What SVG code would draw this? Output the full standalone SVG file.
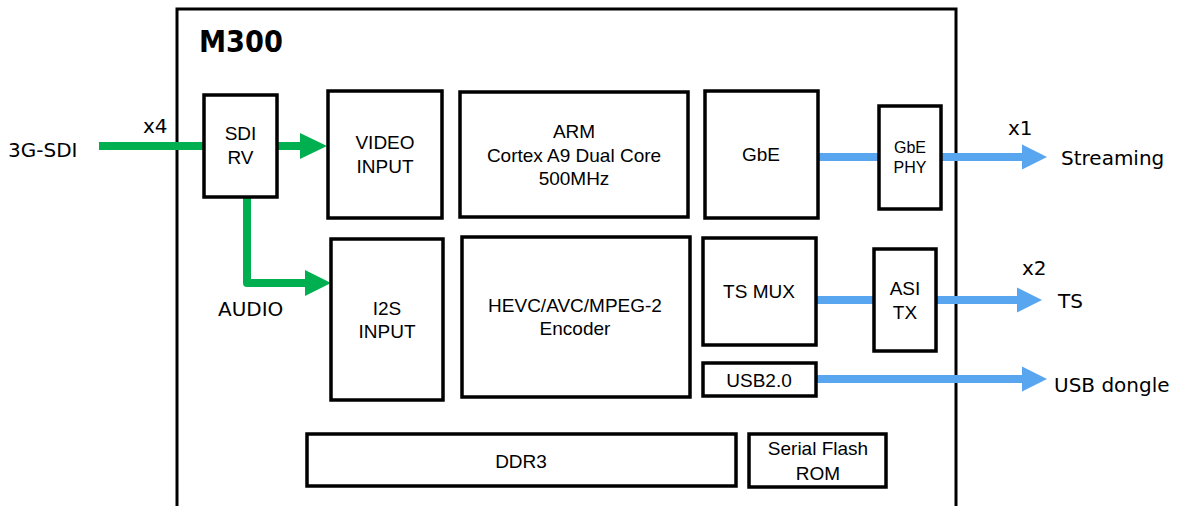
<svg xmlns="http://www.w3.org/2000/svg" width="1184" height="506" viewBox="0 0 1184 506">
<style>
.box{fill:#fff;stroke:#000;stroke-width:3.5}
.t{font-family:"Liberation Sans",Arial,sans-serif;font-size:19px;fill:#000;text-anchor:middle}
.ts{font-family:"Liberation Sans",Arial,sans-serif;font-size:16px;fill:#000;text-anchor:middle}
.lbl{font-family:"DejaVu Sans",Verdana,sans-serif;font-size:20px;fill:#000}
.g{fill:none;stroke:#00B050;stroke-width:8;stroke-linejoin:round}
.gh{fill:#00B050}
.b{fill:none;stroke:#58A5F0;stroke-width:8}
.bh{fill:#58A5F0}
</style>
<rect width="1184" height="506" fill="#fff"/>
<g id="frame">
<rect x="177" y="9" width="779" height="520" fill="none" stroke="#000" stroke-width="3"/>
<text x="199" y="52" font-family="DejaVu Sans,Verdana,sans-serif" font-weight="bold" font-size="30" textLength="84" lengthAdjust="spacingAndGlyphs">M300</text>
</g>
<g id="connectors">
<path class="g" d="M99,146 H206"/>
<path class="g" d="M276,146 H302"/>
<polygon class="gh" points="300,133 327,146 300,159"/>
<path class="g" d="M247,196 V283 H307"/>
<polygon class="gh" points="305,270 331,283 305,296"/>
<path class="b" d="M818,157 H881"/>
<path class="b" d="M940,157 H1024"/>
<polygon class="bh" points="1022,144.5 1047,157 1022,169.5"/>
<path class="b" d="M816,300 H876"/>
<path class="b" d="M935,300 H1019"/>
<polygon class="bh" points="1017,287.5 1042,300 1017,312.5"/>
<path class="b" d="M815,379 H1024"/>
<polygon class="bh" points="1022,366.5 1047,379 1022,391.5"/>
</g>
<g id="labels">
<text class="lbl" x="8" y="157" font-size="21">3G-SDI</text>
<text class="lbl" x="143" y="133">x4</text>
<text class="lbl" x="218" y="316" font-size="21">AUDIO</text>
<text class="lbl" x="1008" y="135">x1</text>
<text class="lbl" x="1061" y="165">Streaming</text>
<text class="lbl" x="1022" y="275">x2</text>
<text class="lbl" x="1058" y="308">TS</text>
<text class="lbl" x="1054" y="392">USB dongle</text>
</g>
<g id="sdi-rv">
<rect class="box" x="204" y="95" width="73" height="102"/>
<text class="t" x="240.5" y="140">SDI</text>
<text class="t" x="240.5" y="164">RV</text>
</g>
<g id="video-input">
<rect class="box" x="328" y="91" width="114" height="127"/>
<text class="t" x="385" y="149">VIDEO</text>
<text class="t" x="385" y="173">INPUT</text>
</g>
<g id="arm">
<rect class="box" x="460" y="92" width="228" height="125"/>
<text class="t" x="574" y="138">ARM</text>
<text class="t" x="574" y="162">Cortex A9 Dual Core</text>
<text class="t" x="574" y="185">500MHz</text>
</g>
<g id="gbe">
<rect class="box" x="705" y="91" width="113" height="127"/>
<text class="t" x="761" y="161">GbE</text>
</g>
<g id="gbe-phy">
<rect class="box" x="879" y="106" width="62" height="103"/>
<text class="ts" x="910" y="153">GbE</text>
<text class="ts" x="910" y="173">PHY</text>
</g>
<g id="i2s-input">
<rect class="box" x="331" y="239" width="112" height="161"/>
<text class="t" x="387" y="315">I2S</text>
<text class="t" x="387" y="338">INPUT</text>
</g>
<g id="encoder">
<rect class="box" x="462" y="237" width="228" height="160"/>
<text class="t" x="575" y="312">HEVC/AVC/MPEG-2</text>
<text class="t" x="575" y="335">Encoder</text>
</g>
<g id="ts-mux">
<rect class="box" x="703" y="238" width="113" height="107"/>
<text class="t" x="759" y="298">TS MUX</text>
</g>
<g id="asi-tx">
<rect class="box" x="874" y="249" width="62" height="102"/>
<text class="t" x="905" y="295">ASI</text>
<text class="t" x="905" y="319">TX</text>
</g>
<g id="usb20">
<rect class="box" x="703" y="363" width="113" height="33"/>
<text class="t" x="759" y="387">USB2.0</text>
</g>
<g id="ddr3">
<rect class="box" x="307" y="434" width="429" height="52"/>
<text class="t" x="521" y="468">DDR3</text>
</g>
<g id="serial-flash">
<rect class="box" x="749" y="434" width="137" height="53"/>
<text class="t" x="818" y="455">Serial Flash</text>
<text class="t" x="818" y="480">ROM</text>
</g>
</svg>
